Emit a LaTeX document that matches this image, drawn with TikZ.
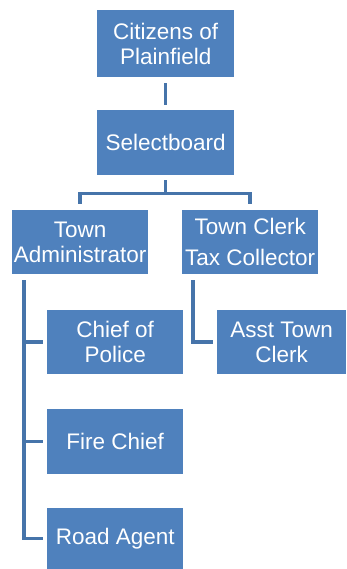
\documentclass[tikz,border=0pt]{standalone}
\usepackage{fontspec}
\setmainfont{Liberation Sans}
\definecolor{boxblue}{RGB}{79,129,189}
\definecolor{lineblue}{RGB}{70,116,170}
\begin{document}
\begin{tikzpicture}[x=1pt,y=-1pt,
  orgbox/.style={fill=boxblue,draw=none,text=white,anchor=north west,inner sep=0pt,align=center,
    font=\fontsize{22.5}{25}\selectfont},
  conn/.style={draw=lineblue,line width=3.5pt}]
\useasboundingbox (0,0) rectangle (346,569);
\node[orgbox,minimum width=137pt,minimum height=67pt] (cit) at (97,10) {Citizens of\\Plainfield};
\node[orgbox,minimum width=137pt,minimum height=65pt] (sel) at (97,110) {Selectboard};
\node[orgbox,minimum width=136pt,minimum height=64pt] (ta) at (12,210) {Town\\Administrator};
\node[orgbox,minimum width=136pt,minimum height=64pt] (tc) at (182,210) {Town Clerk\\[6pt]Tax Collector};
\node[orgbox,minimum width=136pt,minimum height=64pt] (pol) at (47,310) {Chief of\\Police};
\node[orgbox,minimum width=129pt,minimum height=64pt] (atc) at (217,310) {Asst Town\\Clerk};
\node[orgbox,minimum width=136pt,minimum height=65pt] (fire) at (47,409) {Fire Chief};
\node[orgbox,minimum width=136pt,minimum height=61pt] (road) at (47,508) {Road Agent};
% connectors
\draw[conn] ([yshift=-6]cit.south) -- ([yshift=5]sel.north);
\draw[conn] ([yshift=-5]sel.south) -- ++(0,13) coordinate (bar) -| ([yshift=6]ta.north);
\draw[conn] (bar) -| ([yshift=6]tc.north);
\draw[conn] ([xshift=12,yshift=-6]ta.south west) |- ([xshift=-4]pol.west);
\draw[conn] ([xshift=12,yshift=-6]ta.south west) |- ([xshift=-4]fire.west);
\draw[conn] ([xshift=12,yshift=-6]ta.south west) |- ([xshift=-4]road.west);
\draw[conn] ([xshift=11,yshift=-6]tc.south west) |- ([xshift=-4]atc.west);
\end{tikzpicture}
\end{document}
